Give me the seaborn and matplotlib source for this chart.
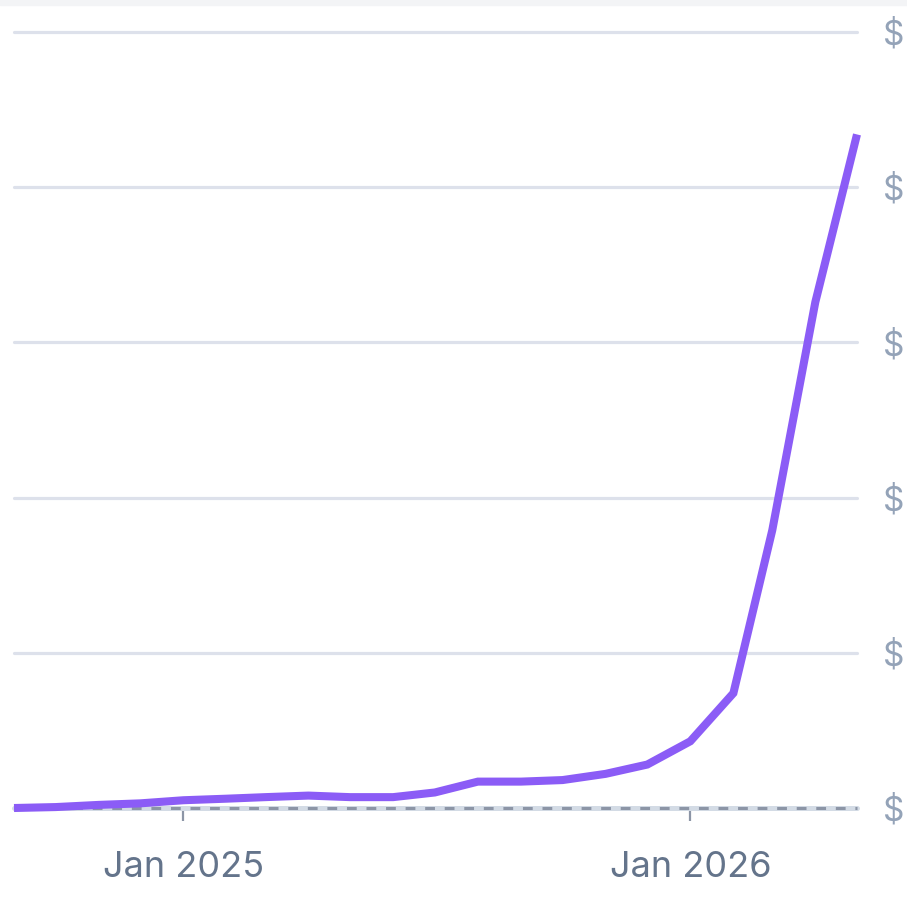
import matplotlib
matplotlib.use("Agg")
import matplotlib.pyplot as plt
import matplotlib.dates as mdates
import seaborn as sns
import pandas as pd
import numpy as np

months = pd.date_range("2024-09-01", "2026-05-01", freq="MS")
values = [0.0, 0.006, 0.02, 0.03, 0.05, 0.06, 0.07, 0.08, 0.07, 0.07, 0.10,
          0.17, 0.17, 0.18, 0.22, 0.28, 0.43, 0.74, 1.79, 3.26, 4.34]
y_ticks = [0, 1, 2, 3, 4, 5]
y_labels = ["$", "$", "$", "$", "$", "$"]
x_ticks = ["2025-01-01", "2026-01-01"]
x_labels = ["Jan 2025", "Jan 2026"]

df = pd.DataFrame({"month": months, "value": values})

sns.set_theme(style="white")
plt.rcParams["font.family"] = ["Inter", "DejaVu Sans"]

W, H = 907, 897
fig = plt.figure(figsize=(W / 100, H / 100), dpi=100)
fig.patch.set_facecolor("white")
# light strip at top
fig.add_artist(plt.Rectangle((0, 1 - 5 / H), 1, 5 / H, transform=fig.transFigure,
                             color="#F3F4F6", zorder=0))

ax = fig.add_axes([14 / W, (H - 808) / H, (857 - 14) / W, (808 - 32) / H])
ax.set_facecolor("white")

for yv in y_ticks[1:]:
    ax.axhline(yv, color="#DDE1EB", lw=2.3, zorder=1, clip_on=False)
# zero line: two-tone dashes
ax.axhline(0, color="#D3DBE5", lw=3.6, zorder=1, clip_on=False)
ax.axhline(0, color="#8C95A6", lw=2.2, zorder=1.1, clip_on=False,
           dashes=(3.2, 3.2))

sns.lineplot(data=df, x="month", y="value", ax=ax, color="#8B5CF6",
             linewidth=5.8, zorder=3, clip_on=False)
for l in ax.lines[-1:]:
    l.set_solid_capstyle("butt")
    l.set_solid_joinstyle("miter")

ax.set_xlim(months[0], months[-1])
ax.set_ylim(0, 5)

ax.set_xticks(pd.to_datetime(x_ticks))
ax.set_xticklabels(x_labels, fontsize=26, color="#64748B")
ax.tick_params(axis="x", length=9, width=1.6, color="#8C95A6", pad=22,
               bottom=True, direction="out")
ax.yaxis.tick_right()
ax.set_yticks(y_ticks)
ax.set_yticklabels(y_labels, fontsize=24, color="#94A3B8")
ax.tick_params(axis="y", length=0, pad=19, right=False, left=False)

ax.set_xlabel("")
ax.set_ylabel("")
for s in ax.spines.values():
    s.set_visible(False)
ax.grid(False)

fig.savefig("out.png", dpi=100)
